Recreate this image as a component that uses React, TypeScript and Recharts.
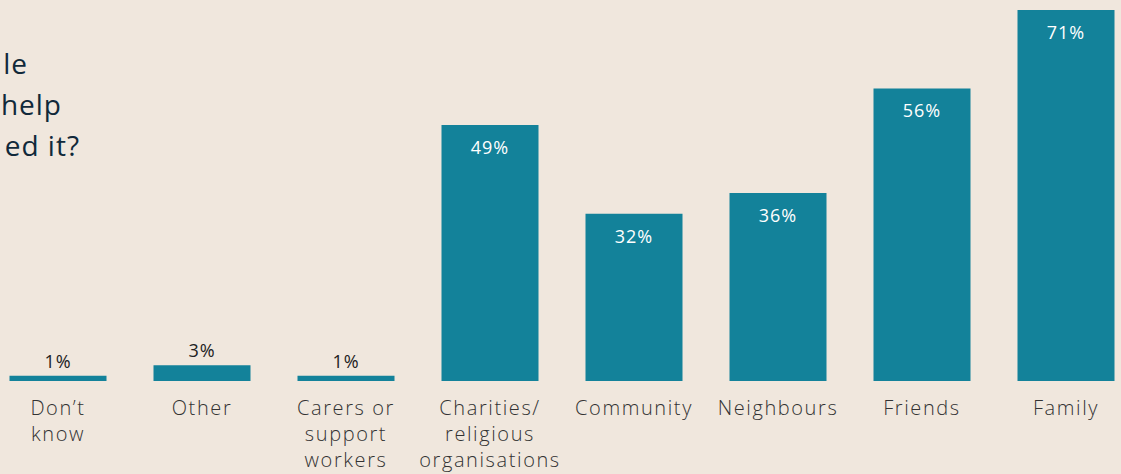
import { BarChart, Bar, XAxis, YAxis, LabelList } from 'recharts';

const categories = ['Don\u2019t\nknow', 'Other', 'Carers or\nsupport\nworkers', 'Charities/\nreligious\norganisations', 'Community', 'Neighbours', 'Friends', 'Family'];
const values = [1, 3, 1, 49, 32, 36, 56, 71];
const titleFragments = ['le', 'help', 'ed it?'];

const data = categories.map((name, i) => ({ name, value: values[i] }));

const BG = '#f0e7dd';
const TEAL = '#13829a';
const FONT = '"Open Sans", sans-serif';

function CategoryTick(props: any) {
  const { x, y, payload } = props;
  const lines = String(payload.value).split('\n');
  return (
    <g>
      {lines.map((line: string, i: number) => (
        <text
          key={i}
          x={x}
          y={y + 26 + i * 26}
          textAnchor="middle"
          fontFamily={FONT}
          fontSize={20}
          fontWeight={300}
          letterSpacing={1.6}
          fill="#333"
        >
          {line}
        </text>
      ))}
    </g>
  );
}

function ValueLabel(props: any) {
  const { x, y, width, value } = props;
  const inside = value >= 10;
  return (
    <text
      x={x + width / 2}
      y={inside ? y + 29 : y - 8}
      textAnchor="middle"
      fontFamily={FONT}
      fontSize={18}
      fontWeight={500}
      letterSpacing={1}
      fill={inside ? '#fff' : '#222'}
    >
      {value}%
    </text>
  );
}

export default function App() {
  return (
    <div style={{ position: 'fixed', left: 0, top: 0, width: 1121, height: 474, overflow: 'hidden', background: BG }}>
      <div style={{ position: 'absolute', left: -14.5, top: 0 }}>
        <BarChart width={1152} height={474} data={data} margin={{ top: 10, right: 0, left: 0, bottom: 0 }} barCategoryGap={23.5}>
          <XAxis dataKey="name" axisLine={false} tickLine={false} tick={<CategoryTick />} interval={0} height={93} />
          <YAxis hide domain={[0, 71]} />
          <Bar dataKey="value" fill={TEAL} isAnimationActive={false}>
            <LabelList dataKey="value" content={<ValueLabel />} />
          </Bar>
        </BarChart>
      </div>
      {titleFragments.map((t, i) => (
        <div
          key={i}
          style={{
            position: 'absolute',
            right: 1121 - [28, 62, 80][i],
            top: 44 + i * 41,
            fontFamily: FONT,
            fontSize: 28,
            fontWeight: 500,
            letterSpacing: 1,
            color: '#10293a',
            whiteSpace: 'nowrap',
            lineHeight: '38px',
          }}
        >
          {t}
        </div>
      ))}
    </div>
  );
}
